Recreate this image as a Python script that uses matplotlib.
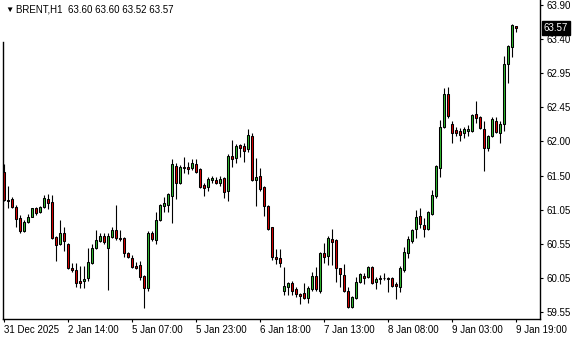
import numpy as np
import matplotlib
matplotlib.use("Agg")
import matplotlib.pyplot as plt

# BRENT H1 candles (open, high, low, close)
opens = [61.53, 61.14, 61.15, 61.04, 60.88, 60.70, 60.83, 60.90, 61.02, 60.97,
         61.04, 61.15, 61.11, 60.61, 60.51, 60.67, 60.52, 60.17, 60.14, 59.99,
         59.99, 60.03, 60.24, 60.45, 60.55, 60.63, 60.45, 60.61, 60.71, 60.60,
         60.60, 60.39, 60.31, 60.20, 60.22, 60.06, 59.89, 60.67, 60.57, 60.85,
         61.05, 61.07, 61.19, 61.62, 61.38, 61.61, 61.61, 61.59, 61.65, 61.58,
         61.35, 61.32, 61.42, 61.42, 61.38, 61.45, 61.26, 61.76, 61.73, 61.92,
         61.90, 61.86, 62.04, 61.42, 61.48, 61.32, 61.05, 60.75, 60.33, 60.31,
         59.85, 59.90, 59.96, 59.88, 59.81, 59.82, 59.75, 59.88, 60.06, 59.85,
         60.39, 60.34, 60.58, 60.57, 60.17, 60.07, 59.85, 59.62, 59.75, 59.97,
         60.06, 60.05, 60.19, 59.97, 60.03, 60.03, 60.03, 60.03, 59.95, 59.90,
         60.14, 60.39, 60.55, 60.73, 60.91, 60.78, 60.73, 60.94, 61.19, 61.59,
         62.17, 62.64, 62.21, 62.13, 62.11, 62.09, 62.11, 62.11, 62.36, 62.31,
         62.14, 61.87, 62.04, 62.26, 62.09, 62.21, 63.06, 63.30, 63.60]
highs = [61.65, 61.34, 61.18, 61.07, 60.92, 60.85, 60.94, 61.03, 61.04, 61.05,
         61.21, 61.22, 61.21, 60.62, 60.85, 60.75, 60.53, 60.24, 60.24, 60.20,
         60.20, 60.45, 60.52, 60.71, 60.67, 60.67, 60.67, 60.75, 61.07, 60.71,
         60.61, 60.40, 60.36, 60.26, 60.27, 60.07, 60.70, 60.70, 60.97, 61.08,
         61.18, 61.24, 61.72, 61.66, 61.64, 61.75, 61.68, 61.72, 61.72, 61.59,
         61.38, 61.46, 61.48, 61.46, 61.48, 61.46, 61.79, 61.99, 61.93, 61.93,
         61.94, 62.14, 62.09, 61.73, 61.59, 61.33, 61.07, 60.76, 60.44, 60.44,
         60.19, 59.97, 59.99, 59.90, 59.82, 59.96, 59.92, 60.12, 60.19, 60.40,
         60.53, 60.63, 60.73, 60.58, 60.18, 60.23, 59.90, 59.77, 60.05, 60.10,
         60.10, 60.20, 60.20, 60.05, 60.07, 60.10, 60.04, 60.05, 59.97, 60.20,
         60.47, 60.63, 60.72, 61.00, 61.02, 60.88, 60.98, 61.28, 61.63, 62.27,
         62.72, 62.74, 62.26, 62.17, 62.16, 62.17, 62.20, 62.36, 62.54, 62.33,
         62.26, 62.06, 62.31, 62.31, 62.26, 63.18, 63.33, 63.63, 63.60]
lows = [61.13, 61.02, 61.02, 60.75, 60.67, 60.69, 60.81, 60.89, 60.92, 60.95,
        61.02, 61.01, 60.59, 60.27, 60.50, 60.41, 60.16, 60.11, 59.90, 59.89,
        59.89, 59.99, 60.23, 60.44, 60.54, 60.51, 59.86, 60.60, 60.57, 60.55,
        60.33, 60.31, 60.18, 60.16, 60.01, 59.61, 59.85, 60.55, 60.52, 60.84,
        60.97, 60.97, 60.81, 61.15, 61.36, 61.52, 61.50, 61.56, 61.52, 61.31,
        61.19, 61.26, 61.38, 61.36, 61.34, 61.17, 61.12, 61.61, 61.66, 61.75,
        61.68, 61.82, 61.41, 61.05, 61.26, 60.91, 60.71, 60.29, 60.23, 60.19,
        59.79, 59.79, 59.79, 59.76, 59.66, 59.73, 59.68, 59.85, 59.85, 59.82,
        60.24, 60.22, 60.22, 59.97, 59.90, 59.84, 59.61, 59.61, 59.73, 59.96,
        59.95, 60.03, 59.95, 59.88, 59.95, 60.00, 59.83, 59.90, 59.73, 59.83,
        60.11, 60.31, 60.53, 60.60, 60.74, 60.61, 60.71, 60.93, 61.17, 61.46,
        62.16, 62.30, 61.94, 62.04, 61.97, 62.02, 62.04, 62.10, 62.23, 62.14,
        61.55, 61.83, 62.03, 62.09, 61.94, 62.11, 62.79, 63.16, 63.52]
closes = [61.14, 61.12, 61.04, 60.87, 60.70, 60.83, 60.90, 61.02, 60.95, 61.04,
          61.17, 61.09, 60.60, 60.50, 60.67, 60.55, 60.17, 60.14, 59.96, 59.96,
          60.02, 60.26, 60.45, 60.57, 60.63, 60.54, 60.63, 60.71, 60.60, 60.58,
          60.39, 60.33, 60.19, 60.17, 60.05, 59.89, 60.67, 60.58, 60.85, 61.07,
          61.09, 61.22, 61.65, 61.38, 61.61, 61.59, 61.58, 61.66, 61.53, 61.32,
          61.31, 61.44, 61.45, 61.38, 61.44, 61.25, 61.76, 61.72, 61.90, 61.87,
          61.83, 62.06, 61.42, 61.46, 61.29, 61.05, 60.73, 60.33, 60.30, 60.24,
          59.92, 59.96, 59.85, 59.81, 59.78, 59.75, 59.89, 60.06, 59.88, 60.39,
          60.33, 60.60, 60.54, 60.17, 60.09, 59.85, 59.62, 59.76, 59.97, 60.09,
          60.03, 60.19, 59.96, 60.02, 60.02, 60.03, 60.02, 59.92, 59.92, 60.17,
          60.40, 60.58, 60.71, 60.90, 60.80, 60.73, 60.97, 61.21, 61.62, 62.17,
          62.64, 62.33, 62.09, 62.09, 62.06, 62.14, 62.14, 62.34, 62.30, 62.16,
          61.87, 62.04, 62.29, 62.10, 62.21, 63.06, 63.32, 63.62, 63.57]

date_labels = ["31 Dec 2025", "2 Jan 14:00", "5 Jan 07:00", "5 Jan 23:00",
               "6 Jan 18:00", "7 Jan 13:00", "8 Jan 08:00", "9 Jan 03:00",
               "9 Jan 19:00"]
bars_per_label = 16
price_labels = ["63.90", "63.40", "62.95", "62.45", "62.00",
                "61.50", "61.05", "60.55", "60.05", "59.55"]

font = ["Liberation Sans", "DejaVu Sans"]
plt.rcParams["font.family"] = font

o = np.array(opens)
h = np.array(highs)
l = np.array(lows)
c = np.array(closes)
x = np.arange(len(o))

fig = plt.figure(figsize=(5.8, 3.4), dpi=100)
fig.patch.set_facecolor("white")
ax = fig.add_axes([3 / 580, 21 / 340, 537 / 580, 319 / 340])

# wicks
ax.vlines(x, l, h, color="black", linewidth=0.8, zorder=1)

# bodies
up = c >= o
bottoms = np.minimum(o, c)
heights = np.maximum(np.abs(c - o), 0.008)
ax.bar(x[up], heights[up], bottom=bottoms[up], width=0.45,
       color="#2fb92f", edgecolor="black", linewidth=0.75, zorder=2)
ax.bar(x[~up], heights[~up], bottom=bottoms[~up], width=0.45,
       color="#d80000", edgecolor="black", linewidth=0.75, zorder=2)

ax.set_xlim(-0.3, 134.1)
ax.set_ylim(59.451, 63.971)

# price axis on the right
yt = np.linspace(float(price_labels[-1]), float(price_labels[0]), len(price_labels))
ax.yaxis.tick_right()
ax.set_yticks(yt)
ax.set_yticklabels(price_labels[::-1], fontsize=7)
ax.tick_params(axis="y", direction="out", length=2.5, width=0.8, pad=2)

# time axis
xt = np.arange(len(date_labels)) * bars_per_label
ax.set_xticks(xt)
ax.set_xticklabels(date_labels, fontsize=7, ha="left")
ax.tick_params(axis="x", direction="out", length=2.5, width=0.8, pad=2)

for side in ["left", "right", "bottom"]:
    ax.spines[side].set_linewidth(1.0)
    ax.spines[side].set_color("black")
ax.spines["top"].set_visible(False)
# left border starts below the header line
ax.spines["left"].set_bounds(59.451, 63.38)

# last price box
ax.text(1.0 + 4 / 537, c[-1], "%.2f" % c[-1], transform=ax.get_yaxis_transform(),
        fontsize=7, color="white", va="center", ha="left", zorder=5,
        bbox=dict(boxstyle="square,pad=0.22", facecolor="black", edgecolor="black"))

# header
fig.text(5 / 580, 1 - 10 / 340, "\u25bc", fontsize=6, va="center", ha="left",
         family=font)
fig.text(16 / 580, 1 - 10 / 340, "BRENT,H1  %.2f %.2f %.2f %.2f"
         % (o[-1], h[-1], l[-1], c[-1]), fontsize=7, va="center", ha="left")

fig.savefig("out.png", dpi=100, facecolor="white")
